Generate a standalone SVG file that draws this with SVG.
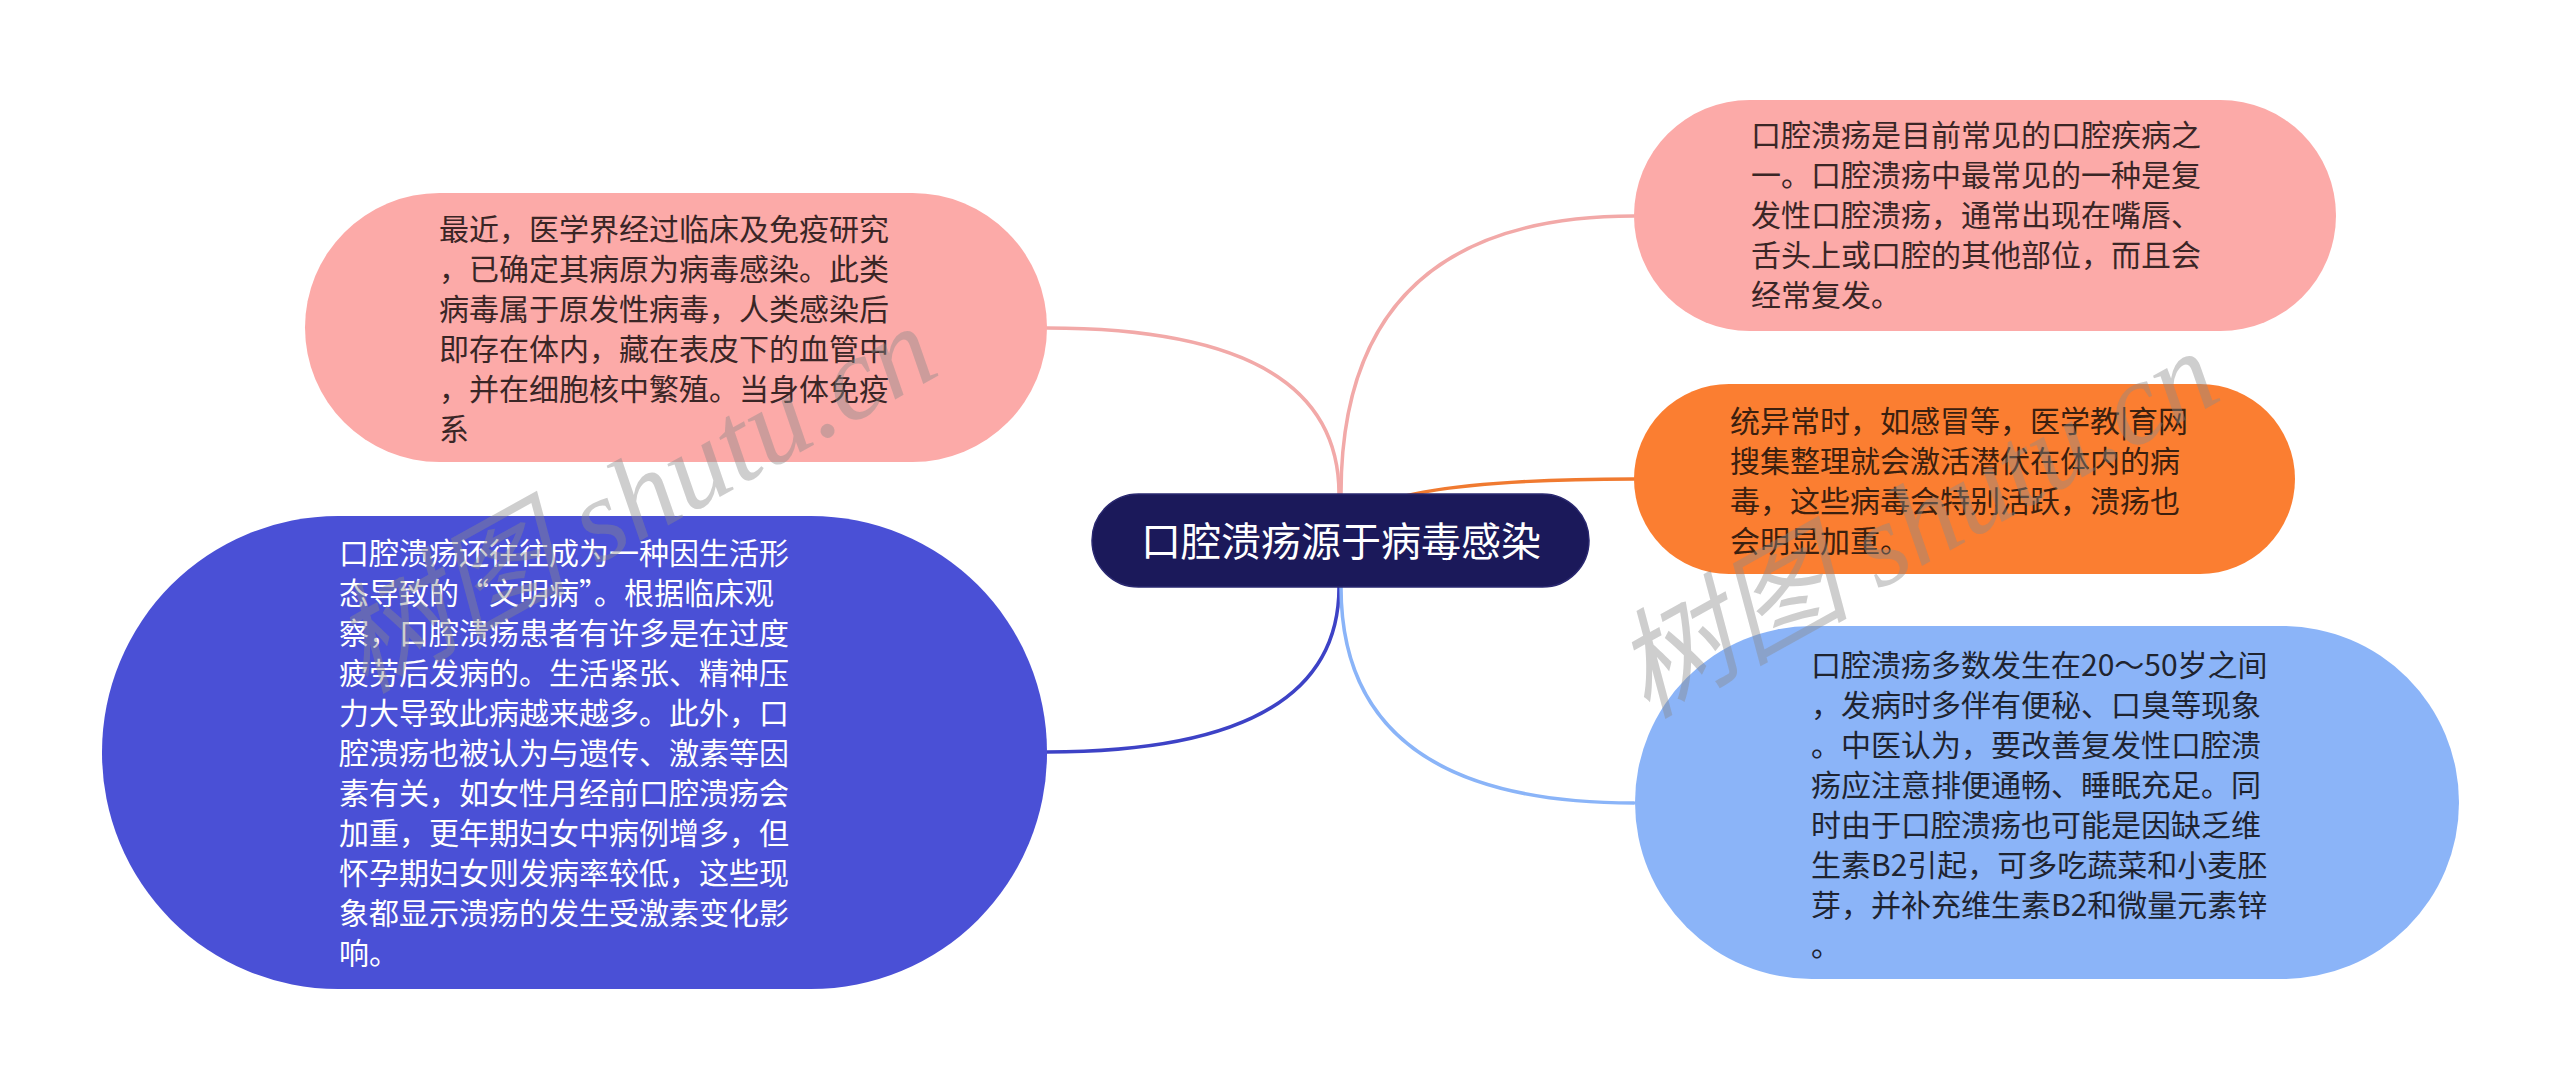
<svg xmlns="http://www.w3.org/2000/svg" width="2560" height="1091" viewBox="0 0 2560 1091">
<style>
.conn{fill:none;stroke-width:3.5;stroke-linecap:round}
.t{font-family:"Noto Sans CJK SC","Noto Sans",sans-serif;font-size:30px}
.dark{fill:#3a2626}
.white{fill:#ffffff}
.wm{font-family:"Liberation Serif","Noto Sans CJK SC",serif;font-style:italic;font-size:118px;fill:#8a8a8a;fill-opacity:0.42}
</style>
<rect x="0" y="0" width="2560" height="1091" fill="#ffffff"/>
<g id="connectors">
<path class="conn" stroke="#f2a9a8" d="M1339 494 Q1339 328 1047 328"/>
<path class="conn" stroke="#f2a9a8" d="M1341 494 Q1341 216 1634 216"/>
<path class="conn" stroke="#f07a30" d="M1339 540 Q1339 479 1634 479"/>
<path class="conn" stroke="#3d42c6" d="M1339 587 Q1339 752 1047 752"/>
<path class="conn" stroke="#8ab4f8" d="M1341 587 Q1341 803 1634 803"/>
</g>
<g id="center">
<rect x="1092" y="494" width="497" height="93" rx="46.5" fill="#1b195a" stroke="#2a2870" stroke-width="1.5"/>
<text x="1341" y="556" text-anchor="middle" font-family="Noto Sans CJK SC, Noto Sans, sans-serif" font-size="40" fill="#ffffff">口腔溃疡源于病毒感染</text>
</g>
<g id="node1">
<rect x="305" y="193" width="742" height="269" rx="134.5" fill="#fcaaa8"/>
<text class="t dark"><tspan x="439" y="240">最近，医学界经过临床及免疫研究</tspan><tspan x="439" y="280">，已确定其病原为病毒感染。此类</tspan><tspan x="439" y="320">病毒属于原发性病毒，人类感染后</tspan><tspan x="439" y="360">即存在体内，藏在表皮下的血管中</tspan><tspan x="439" y="400">，并在细胞核中繁殖。当身体免疫</tspan><tspan x="439" y="440">系</tspan></text>
</g>
<g id="node2">
<rect x="102" y="516" width="945" height="473" rx="236" fill="#4a50d6"/>
<text class="t white"><tspan x="339" y="564">口腔溃疡还往往成为一种因生活形</tspan><tspan x="339" y="604">态导致的“文明病”。根据临床观</tspan><tspan x="339" y="644">察，口腔溃疡患者有许多是在过度</tspan><tspan x="339" y="684">疲劳后发病的。生活紧张、精神压</tspan><tspan x="339" y="724">力大导致此病越来越多。此外，口</tspan><tspan x="339" y="764">腔溃疡也被认为与遗传、激素等因</tspan><tspan x="339" y="804">素有关，如女性月经前口腔溃疡会</tspan><tspan x="339" y="844">加重，更年期妇女中病例增多，但</tspan><tspan x="339" y="884">怀孕期妇女则发病率较低，这些现</tspan><tspan x="339" y="924">象都显示溃疡的发生受激素变化影</tspan><tspan x="339" y="964">响。</tspan></text>
</g>
<g id="node3">
<rect x="1634" y="100" width="702" height="231" rx="115.5" fill="#fcaaa8"/>
<text class="t dark"><tspan x="1751" y="146">口腔溃疡是目前常见的口腔疾病之</tspan><tspan x="1751" y="186">一。口腔溃疡中最常见的一种是复</tspan><tspan x="1751" y="226">发性口腔溃疡，通常出现在嘴唇、</tspan><tspan x="1751" y="266">舌头上或口腔的其他部位，而且会</tspan><tspan x="1751" y="306">经常复发。</tspan></text>
</g>
<g id="node4">
<rect x="1634" y="384" width="661" height="190" rx="95" fill="#fb7e31"/>
<text class="t" fill="#3b200f"><tspan x="1730" y="432">统异常时，如感冒等，医学教|育网</tspan><tspan x="1730" y="472">搜集整理就会激活潜伏在体内的病</tspan><tspan x="1730" y="512">毒，这些病毒会特别活跃，溃疡也</tspan><tspan x="1730" y="552">会明显加重。</tspan></text>
</g>
<g id="node5">
<rect x="1635" y="626" width="824" height="353" rx="176.5" fill="#8bb4f8"/>
<text class="t" fill="#1f2430"><tspan x="1811" y="676">口腔溃疡多数发生在20～50岁之间</tspan><tspan x="1811" y="716">，发病时多伴有便秘、口臭等现象</tspan><tspan x="1811" y="756">。中医认为，要改善复发性口腔溃</tspan><tspan x="1811" y="796">疡应注意排便通畅、睡眠充足。同</tspan><tspan x="1811" y="836">时由于口腔溃疡也可能是因缺乏维</tspan><tspan x="1811" y="876">生素B2引起，可多吃蔬菜和小麦胚</tspan><tspan x="1811" y="916">芽，并补充维生素B2和微量元素锌</tspan><tspan x="1811" y="956">。</tspan></text>
</g>
<g id="watermark">
<text class="wm" transform="translate(364 694) rotate(-29)">树图 shutu.cn</text>
<text class="wm" transform="translate(1646 719) rotate(-29)">树图 shutu.cn</text>
</g>
</svg>
